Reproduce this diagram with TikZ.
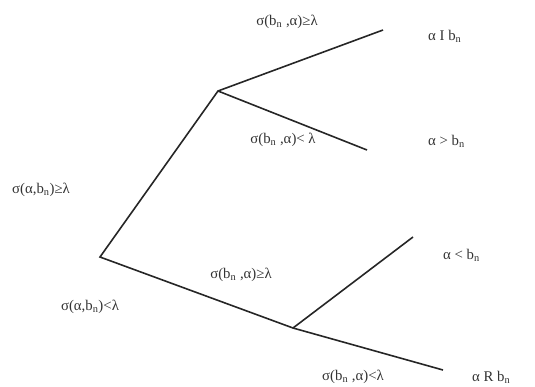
\documentclass[tikz,border=0pt]{standalone}
\usepackage{fontspec}
\setmainfont{Liberation Serif}
\begin{document}
\begin{tikzpicture}[x=1pt,y=-1pt,
  branch/.style={draw=black!85,line width=1.6pt},
  lab/.style={inner sep=0pt,font=\fontsize{14.8}{17}\selectfont,text=black!80}]
\useasboundingbox (0,0) rectangle (535,386);
\coordinate (root) at (100,257);
\coordinate (up) at (218,91);
\coordinate (upA) at (383,30);
\coordinate (upB) at (367,150);
\coordinate (low) at (293,328);
\coordinate (lowA) at (413,237);
\coordinate (lowB) at (443,370);
\draw[branch] (upA) -- (up) -- (root) -- (low) -- (lowB);
\draw[branch] (up) -- (upB);
\draw[branch] (low) -- (lowA);
\node[lab] (l1) at (287,22) {σ(b\textsubscript{n} ,α)≥λ};
\node[lab,anchor=west] (r1) at (428,36) {α I b\textsubscript{n}};
\node[lab] (l2) at (283,140) {σ(b\textsubscript{n} ,α)< λ};
\node[lab,anchor=west] (r2) at (428,141) {α > b\textsubscript{n}};
\node[lab] (l3) at (41,190) {σ(α,b\textsubscript{n})≥λ};
\node[lab,anchor=west] (r3) at (443,255) {α < b\textsubscript{n}};
\node[lab] (l4) at (241,275) {σ(b\textsubscript{n} ,α)≥λ};
\node[lab] (l5) at (90,307) {σ(α,b\textsubscript{n})<λ};
\node[lab] (l6) at (353,377) {σ(b\textsubscript{n} ,α)<λ};
\node[lab,anchor=west] (r4) at (472,377) {α R b\textsubscript{n}};
\end{tikzpicture}
\end{document}
